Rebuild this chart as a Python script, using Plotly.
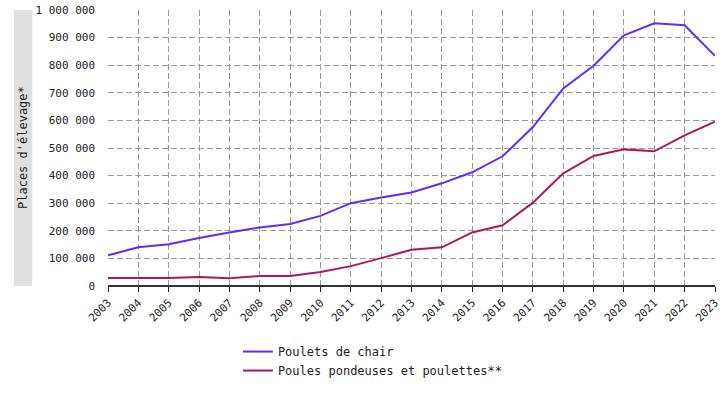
import plotly.graph_objects as go

years = list(range(2003, 2024))
poulets_chair = [111000, 140000, 151000, 174000, 194000, 212000, 225000, 254000, 300000, 321000, 339000,
                 372000, 412000, 470000, 576000, 716000, 798000, 908000, 952000, 945000, 834000]
poules_pondeuses = [29000, 29000, 29000, 33000, 28000, 36000, 36000, 51000, 72000, 101000, 131000,
                    140000, 194000, 220000, 302000, 408000, 471000, 495000, 488000, 546000, 595000]
y_ticks = [0, 100000, 200000, 300000, 400000, 500000, 600000, 700000, 800000, 900000, 1000000]
y_tick_labels = ["0", "100 000", "200 000", "300 000", "400 000", "500 000", "600 000",
                 "700 000", "800 000", "900 000", "1 000 000"]

FONT = "DejaVu Sans Mono"

fig = go.Figure()
fig.add_trace(go.Scatter(x=years, y=poulets_chair, mode="lines", name="Poulets de chair",
                         line=dict(color="#5f2bff", width=2)))
fig.add_trace(go.Scatter(x=years, y=poules_pondeuses, mode="lines", name="Poules pondeuses et poulettes**",
                         line=dict(color="#b01759", width=2)))

fig.update_layout(
    width=725, height=400,
    margin=dict(l=108, r=10, t=10, b=114, autoexpand=False),
    plot_bgcolor="white", paper_bgcolor="white",
    font=dict(family=FONT, size=11, color="#222"),
    showlegend=True,
    legend=dict(x=0.214, y=-0.185, xanchor="left", yanchor="top", orientation="v",
                font=dict(family=FONT, size=12, color="#222"), bgcolor="rgba(0,0,0,0)"),
    xaxis=dict(range=[2003, 2023], tickvals=years, ticktext=[str(y) for y in years],
               tickangle=-45, showgrid=True, gridcolor="#999", griddash="6px,3px", gridwidth=1,
               ticks="outside", ticklen=5, tickcolor="#222", showline=False, zeroline=False,
               automargin=False, tickfont=dict(family=FONT, size=11, color="#222")),
    yaxis=dict(range=[0, 1000000], tickvals=y_ticks, ticktext=y_tick_labels,
               showgrid=True, gridcolor="#999", griddash="6px,3px", gridwidth=1,
               zeroline=False, showline=False, ticks="", ticklabelstandoff=12,
               automargin=False, tickfont=dict(family=FONT, size=11, color="#222")),
)

fig.add_shape(type="line", xref="paper", yref="paper", x0=0, x1=1, y0=0, y1=0,
              line=dict(color="#333", width=2))
fig.add_shape(type="rect", xref="paper", yref="paper", x0=-0.155, x1=-0.125, y0=0, y1=1,
              fillcolor="#e0e0e0", line=dict(width=0), layer="below")
fig.add_annotation(xref="paper", yref="paper", x=-0.14, y=0.5, xanchor="center", yanchor="middle",
                   text="Places d'élevage*", textangle=-90, showarrow=False,
                   font=dict(family=FONT, size=12, color="#222"))

fig.write_html("out.html", config={"displayModeBar": False},
               post_script="document.body.style.margin='0';")
